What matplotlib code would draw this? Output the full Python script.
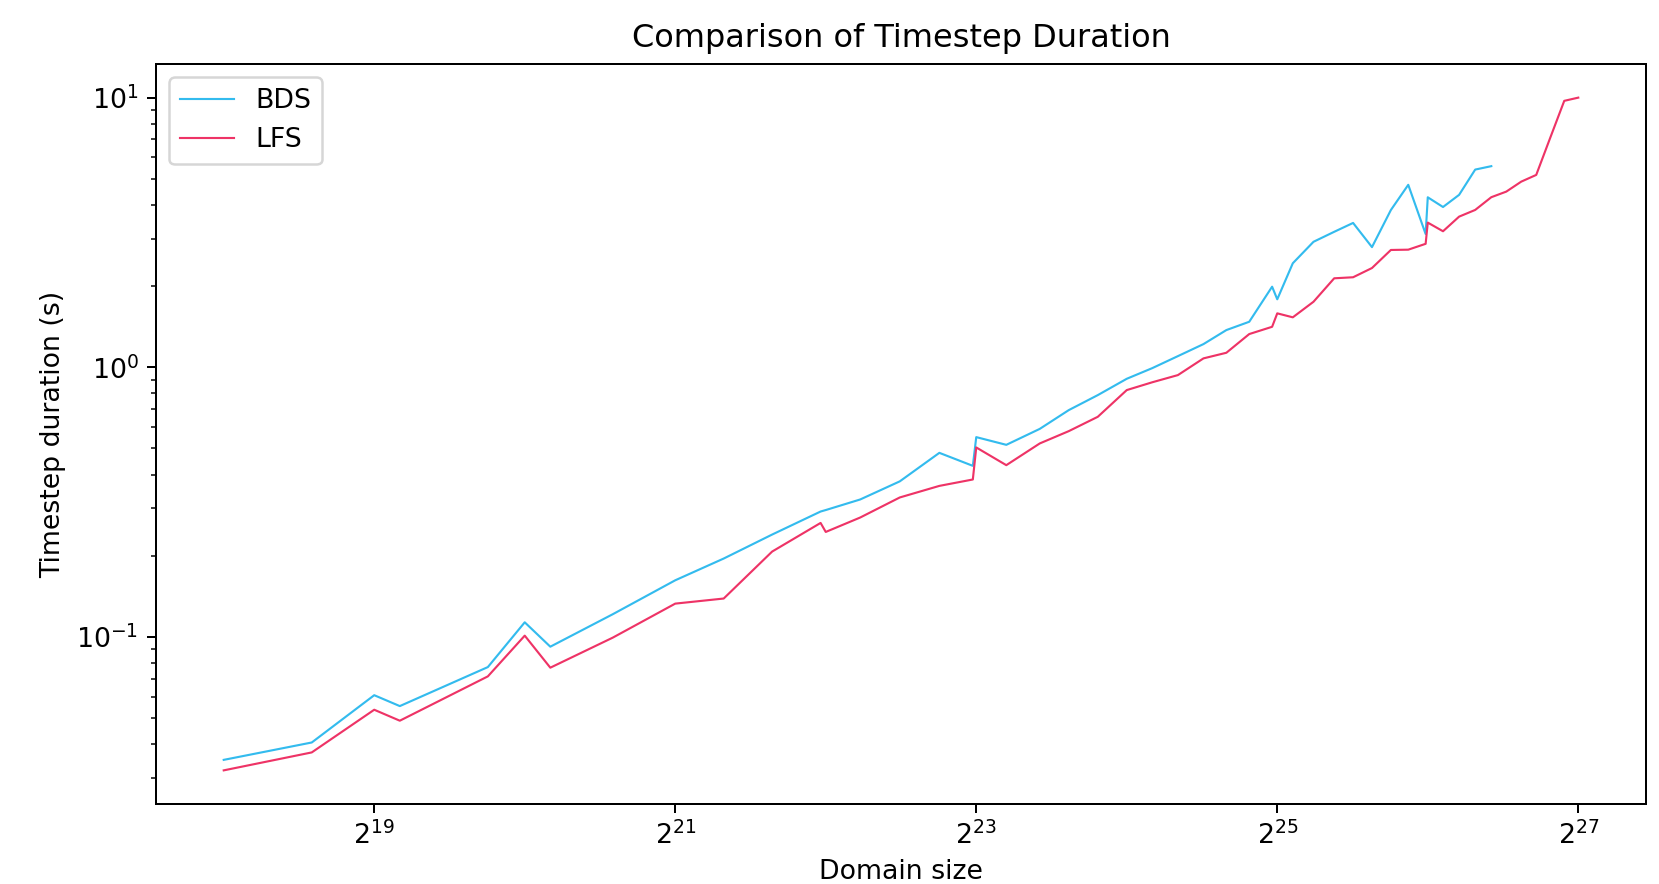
import matplotlib
matplotlib.use("Agg")
import matplotlib.pyplot as plt

# Domain sizes (cells)
domain_sizes = [
    262144, 393216, 524288, 589824, 884736, 1048576, 1179648, 1572864,
    2097152, 2621440, 3276800, 4096000, 4194304, 4915200, 5898240, 7077888,
    8257536, 8388608, 9633792, 11239424, 12845056, 14680064, 16777216,
    18874368, 21233664, 23887872, 26542080, 29491200, 32768000, 33554432,
    36044800, 39649280, 43614208, 47579136, 51904512, 56623104, 61341696,
    66453504, 67108864, 71991296, 77529088, 83492864, 89915392, 96337920,
    103219200, 110592000, 117964800, 125829120, 134217728,
]

bds_times = [
    0.0350, 0.0406, 0.0608, 0.0554, 0.0773, 0.1133, 0.0920, 0.1214,
    0.1622, 0.1953, 0.2397, 0.2918, 0.2955, 0.3234, 0.3775, 0.4816,
    0.4310, 0.5508, 0.5157, 0.5910, 0.6937, 0.7884, 0.9065, 0.993,
    1.100, 1.219, 1.374, 1.475, 1.990, 1.787, 2.431, 2.92,
    3.18, 3.43, 2.79, 3.83, 4.75, 3.12, 4.27, 3.93,
    4.36, 5.41, 5.57,
]

lfs_times = [
    0.0320, 0.0373, 0.0537, 0.0489, 0.0714, 0.1011, 0.0769, 0.0994,
    0.1329, 0.1388, 0.2073, 0.2647, 0.2451, 0.2772, 0.3290, 0.3632,
    0.3836, 0.5043, 0.4335, 0.5219, 0.5797, 0.6551, 0.8231, 0.880,
    0.9355, 1.079, 1.132, 1.328, 1.413, 1.585, 1.532, 1.750,
    2.138, 2.157, 2.334, 2.723, 2.73, 2.87, 3.44, 3.195,
    3.62, 3.833, 4.273, 4.482, 4.881, 5.169, 7.10, 9.73, 10.0,
]

series_names = ["BDS", "LFS"]
series_colors = ["#33BBEE", "#EE3366"]

fig = plt.figure(figsize=(1659 / 180, 884 / 180), dpi=180)
ax = fig.add_axes([156 / 1659, 1 - 804 / 884, (1646 - 156) / 1659, (804 - 64) / 884])

ax.plot(domain_sizes[:len(bds_times)], bds_times, color=series_colors[0], lw=0.85, label=series_names[0])
ax.plot(domain_sizes[:len(lfs_times)], lfs_times, color=series_colors[1], lw=0.85, label=series_names[1])

ax.set_xscale("log", base=2)
ax.set_yscale("log")
ax.set_xticks([2**19, 2**21, 2**23, 2**25, 2**27])
ax.tick_params(labelsize=10.7)

ax.set_title("Comparison of Timestep Duration", fontsize=12.8, pad=7)
ax.set_xlabel("Domain size", fontsize=10.7, labelpad=3.5)
ax.set_ylabel("Timestep duration (s)", fontsize=10.7)
ax.legend(loc="upper left", fontsize=10.7)

fig.savefig("out.png", dpi=180)
